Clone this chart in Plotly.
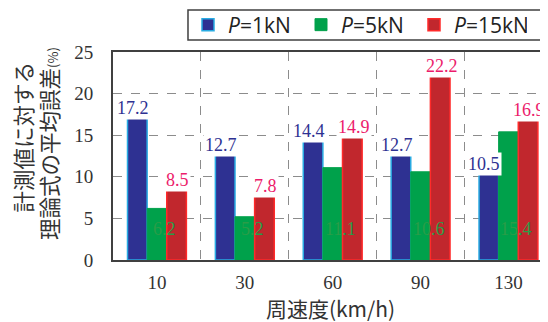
import plotly.graph_objects as go

categories = ["10", "30", "60", "90", "130"]
p1 = [17.2, 12.7, 14.4, 12.7, 10.5]
p5 = [6.2, 5.2, 11.1, 10.6, 15.4]
p15 = [8.5, 7.8, 14.9, 22.2, 16.9]
series_names = ["<i>P</i>=1kN", "<i>P</i>=5kN", "<i>P</i>=15kN"]
ytitle_lines = ["計測値に対する", "理論式の平均誤差<span style='font-size:13px'>(%)</span>"]

fig = go.Figure()
fig.add_trace(go.Bar(x=categories, y=p1, name=series_names[0],
                     marker=dict(color="#2e3192", line=dict(color="#29abe2", width=1.5))))
fig.add_trace(go.Bar(x=categories, y=p5, name=series_names[1],
                     marker=dict(color="#00a14b", line=dict(color="#00a14b", width=1))))
fig.add_trace(go.Bar(x=categories, y=p15, name=series_names[2],
                     marker=dict(color="#c1272d", line=dict(color="#ff2a2a", width=1.5))))

serif = "Liberation Serif, Times New Roman, serif"
for i, c in enumerate(categories):
    fig.add_annotation(x=i, y=p1[i], text=f"{p1[i]:.1f}", showarrow=False,
                       xshift=-24, yanchor="bottom", yshift=-3, bgcolor="white",
                       font=dict(family=serif, size=18, color="#2e3192"))
    fig.add_annotation(x=i, y=p15[i], text=f"{p15[i]:.1f}", showarrow=False,
                       xshift=21, yanchor="bottom", yshift=-3, bgcolor="white",
                       font=dict(family=serif, size=18, color="#ec1c6b"))
    fig.add_annotation(x=i, y=3.7, text=f"{p5[i]:.1f}", showarrow=False,
                       xshift=8, yanchor="middle",
                       font=dict(family=serif, size=18, color="#2a9d48"))

# y-axis title as two rotated lines
cjk = "Noto Sans CJK JP"
fig.add_annotation(xref="paper", yref="paper", x=-0.209, y=0.589, text=ytitle_lines[0],
                   textangle=-90, showarrow=False, xanchor="center", yanchor="middle",
                   font=dict(family=cjk, size=21.5, color="#333"))
fig.add_annotation(xref="paper", yref="paper", x=-0.1471, y=0.558, text=ytitle_lines[1],
                   textangle=-90, showarrow=False, xanchor="center", yanchor="middle",
                   font=dict(family=cjk, size=21.5, color="#333"))

# legend frame (extends past the right edge like the reference)
fig.add_shape(type="rect", xref="paper", yref="paper", x0=0.1724, x1=1.2,
              y0=1.0577, y1=1.2019, fillcolor="white",
              line=dict(color="#404040", width=1.5), layer="above")

# the page body adds an 8px offset, so the layout is shifted by -8px
fig.update_layout(
    width=548, height=322,
    margin=dict(l=105, r=8, t=44, b=70, autoexpand=False),
    plot_bgcolor="white", paper_bgcolor="white",
    barmode="group", bargap=0.33, bargroupgap=0,
    showlegend=True,
    legend=dict(orientation="h", xref="container", yref="container",
                x=180 / 548, y=1 - 17 / 322, xanchor="left", yanchor="middle",
                borderwidth=0, bgcolor="rgba(0,0,0,0)",
                font=dict(family="Open Sans, Noto Sans, sans-serif", size=21, color="#222"),
                itemwidth=30, entrywidth=68, traceorder="normal"),
    xaxis=dict(type="category", range=[-0.5, 4.45], tickson="boundaries",
               showgrid=True, gridcolor="#8c8c8c", griddash="dash", gridwidth=1.2,
               showline=True, linecolor="#404040", linewidth=2, mirror=True,
               ticks="", ticklabelstandoff=4, automargin=False,
               tickfont=dict(family=serif, size=19, color="#333"),
               title=dict(text="周速度(km/h)", standoff=2,
                          font=dict(family=cjk, size=21, color="#333"))),
    yaxis=dict(range=[0, 25], dtick=5, showgrid=True, gridcolor="#8c8c8c",
               griddash="dash", gridwidth=1.2,
               showline=True, linecolor="#404040", linewidth=2, mirror=True,
               ticks="", ticklabelstandoff=14, zeroline=False, automargin=False,
               tickfont=dict(family=serif, size=19, color="#333")),
)

fig.write_html("out.html")
